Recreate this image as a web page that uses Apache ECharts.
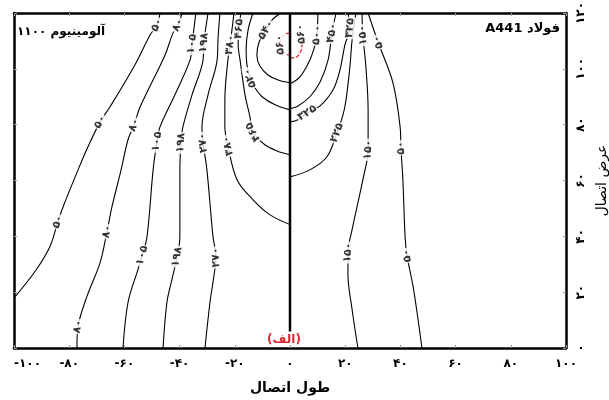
<!DOCTYPE html>
<html><head><meta charset="utf-8">
<script src="https://cdn.jsdelivr.net/npm/echarts@6/dist/echarts.min.js"></script>
<style>html,body{margin:0;padding:0;background:#fff}#c{width:609px;height:400px}</style>
</head><body><div id="c"></div>
<script>
// ---- tick labels ----
const xTickValues = [-100,-80,-60,-40,-20,0,20,40,60,80,100];
const xTickLabels = ['-۱۰۰','-۸۰','-۶۰','-۴۰','-۲۰','۰','۲۰','۴۰','۶۰','۸۰','۱۰۰'];
const yTickValues = [0,20,40,60,80,100,120];
const yTickLabels = ['۰','۲۰','۴۰','۶۰','۸۰','۱۰۰','۱۲۰'];

// ---- aluminium side contours [x, y] ----
const al50 = [[-47.1,120],[-48.2,115.7],[-50.7,112.1],[-56.2,101.4],[-65.2,86.4],[-68.8,81.0],[-73.2,72.1],[-76.8,63.8],[-82.2,50.6],[-84.1,45.2],[-87.0,36.3],[-92.4,27.4],[-99.6,18.4]];
const al50Lab = [1,5,9];
const al80 = [[-39.1,120],[-40.6,115.7],[-42.4,112.8],[-45.3,104.9],[-54.3,86.4],[-56.5,79.9],[-58.7,74.6],[-61.2,63.8],[-64.5,50.6],[-66.3,41.7],[-68.8,30.6],[-73.6,18.4],[-76.8,7.7],[-77.2,0]];
const al80Lab = [1,5,9,12];
const al105 = [[-34.1,120],[-35.5,108.9],[-36.2,103.2],[-41.7,90.7],[-47.1,79.2],[-48.2,73.9],[-49.6,63.8],[-51.8,39.9],[-53.6,33.1],[-55.1,28.1],[-58.7,16.3],[-60.5,0]];
const al105Lab = [1,5,8];
const al198 = [[-29.7,120],[-31.2,109.3],[-31.5,103.2],[-35.5,90.7],[-38.8,79.2],[-39.5,73.5],[-39.9,63.8],[-39.9,39.9],[-40.9,32.7],[-42.8,24.5],[-44.6,16.3],[-46.0,0]];
const al198Lab = [1,5,8];
const al270 = [[-25.4,120],[-26.1,110.3],[-26.4,103.2],[-29.7,90.7],[-31.9,79.2],[-31.5,73.5],[-30.1,63.8],[-27.9,39.9],[-26.8,32.4],[-27.5,26.3],[-29.0,16.3],[-30.8,0]];
const al270Lab = [5,8];
const al380 = [[-20.3,120],[-21.7,108.6],[-22.5,103.2],[-23.6,88.9],[-23.6,79.2],[-22.5,72.4],[-19.2,60.3],[-13.4,53.1],[-7.2,47.7],[0,44.2]];
const al380Lab = [1,5];
const al465 = [[-17.8,120],[-18.5,114.3],[-18.8,108.6],[-18.1,103.2],[-16.3,90.7],[-14.5,82.8],[-13.4,77.4],[-9.1,72.8],[-4.7,70.6],[0,69.2]];
const al465Lab = [1,6];
const al520 = [[-13.4,120],[-15.2,113.9],[-15.9,106.8],[-15.6,101.4],[-14.5,96.7],[-12.7,93.2],[-10.1,90.0],[-5.4,87.1],[0,85.3]];
const al520Lab = [4];
const al540 = [[-3.3,120],[-6.5,117.5],[-8.7,113.9],[-11.2,109.6],[-12.0,104.9],[-10.9,101.0],[-8.0,97.8],[-4.3,96.0],[0,95.0]];
const al540Lab = [2];
const al560 = [[0,112.8],[-1.8,112.5],[-3.3,110.7],[-3.6,108.6],[-2.9,106.4],[-1.4,105.3],[0,104.9]];
const al560Lab = [3];

// ---- steel side contours [x, y] ----
const st50 = [[28.3,120],[31.9,109.6],[37.3,95.0],[39.9,79.2],[40.2,71.7],[40.9,60.3],[41.7,39.9],[42.4,33.1],[44.6,22.0],[46.4,10.2],[47.8,0]];
const st50Lab = [1,4,7];
const st150 = [[26.1,120],[26.4,112.1],[27.5,100.7],[28.3,85.3],[28.3,71.0],[26.4,60.3],[22.5,42.4],[21.0,34.2],[21.0,26.3],[22.5,13.8],[24.6,0]];
const st150Lab = [1,4,7];
const st225 = [[23.9,120],[22.5,110.3],[21.7,100.7],[20.3,88.9],[19.2,83.5],[17.0,77.1],[13.4,68.5],[7.2,63.8],[0,61.3]];
const st225Lab = [5];
const st325 = [[21.0,120],[21.7,114.6],[19.9,108.6],[18.1,99.6],[15.6,92.5],[10.9,86.7],[6.2,84.2],[2.9,81.8],[0,81.0]];
const st325Lab = [1,6];
const st450 = [[16.7,120],[15.2,112.8],[13.8,103.2],[10.9,95.3],[7.2,90.0],[2.9,86.7],[0,85.7]];
const st450Lab = [1];
const st500 = [[10.1,120],[9.8,112.1],[9.1,108.6],[7.2,103.2],[3.6,97.1],[0,94.6]];
const st500Lab = [1];
const st560 = [[0,103.9],[2.2,104.2],[3.6,105.7],[4.3,107.8],[4.3,109.9],[4.0,112.5]];
const st560Lab = [5];

// centre line (weld line)
const centreLine = [[0,5.9],[0,120]];

const contours = [
  {pts: al50, text: '۵۰', lab: al50Lab},
  {pts: al80, text: '۸۰', lab: al80Lab},
  {pts: al105, text: '۱۰۵', lab: al105Lab},
  {pts: al198, text: '۱۹۸', lab: al198Lab},
  {pts: al270, text: '۲۷۰', lab: al270Lab},
  {pts: al380, text: '۳۸۰', lab: al380Lab},
  {pts: al465, text: '۴۶۵', lab: al465Lab},
  {pts: al520, text: '۵۲۰', lab: al520Lab},
  {pts: al540, text: '۵۴۰', lab: al540Lab},
  {pts: al560, text: '۵۶۰', lab: al560Lab, red: true},
  {pts: st50, text: '۵۰', lab: st50Lab},
  {pts: st150, text: '۱۵۰', lab: st150Lab},
  {pts: st225, text: '۲۲۵', lab: st225Lab},
  {pts: st325, text: '۳۲۵', lab: st325Lab},
  {pts: st450, text: '۴۵۰', lab: st450Lab},
  {pts: st500, text: '۵۰۰', lab: st500Lab},
  {pts: st560, text: '۵۶۰', lab: st560Lab, red: true}
];

const FONT = 'DejaVu Sans';
const chart = echarts.init(document.getElementById('c'));

const lineSeries = contours.map(c => ({
  type: 'line', data: c.pts, smooth: 0.35, symbol: 'none', silent: true, z: 2,
  lineStyle: c.red ? {color: '#e3262d', width: 1.3, type: [4, 2]} : {color: '#000', width: 1.1}
}));
lineSeries.push({type: 'line', data: centreLine, symbol: 'none', silent: true, z: 3,
  lineStyle: {color: '#000', width: 2.5}});

const tickFmt = (vals, labs) => v => { const i = vals.indexOf(Math.round(v)); return i >= 0 ? labs[i] : ''; };

const option = {
  animation: false,
  backgroundColor: '#fff',
  grid: {left: 14, right: 43, top: 13, bottom: 52, show: false, containLabel: false, outerBoundsMode: 'none'},
  xAxis: [
    {type: 'value', min: -100, max: 100, interval: 20, position: 'bottom',
     axisLine: {show: true, onZero: false, lineStyle: {color: '#000', width: 2.5}},
     axisTick: {show: true, inside: true, length: 3, lineStyle: {color: '#999'}},
     axisLabel: {formatter: tickFmt(xTickValues, xTickLabels), fontFamily: FONT, fontSize: 12, fontWeight: 'bold', color: '#000', margin: 10, alignMinLabel: 'left'},
     splitLine: {show: false},
     name: 'طول اتصال', nameLocation: 'middle', nameGap: 33,
     nameTextStyle: {fontFamily: FONT, fontSize: 14, fontWeight: 'bold', color: '#000'}},
    {type: 'value', min: -100, max: 100, interval: 20, position: 'top',
     axisLine: {show: true, onZero: false, lineStyle: {color: '#000', width: 2.5}},
     axisTick: {show: true, inside: true, length: 3, lineStyle: {color: '#999'}},
     axisLabel: {show: false}, splitLine: {show: false}}
  ],
  yAxis: [
    {type: 'value', min: 0, max: 120, interval: 20, position: 'right',
     axisLine: {show: true, onZero: false, lineStyle: {color: '#000', width: 2.5}},
     axisTick: {show: true, inside: true, length: 3, lineStyle: {color: '#999'}},
     axisLabel: {formatter: tickFmt(yTickValues, yTickLabels), rotate: 90, fontFamily: FONT, fontSize: 12, fontWeight: 'bold', color: '#000', margin: 9},
     splitLine: {show: false},
     name: 'عرض اتصال', nameLocation: 'middle', nameGap: 28, nameRotate: 90,
     nameTextStyle: {fontFamily: FONT, fontSize: 14, color: '#000'}},
    {type: 'value', min: 0, max: 120, interval: 20, position: 'left',
     axisLine: {show: true, onZero: false, lineStyle: {color: '#000', width: 2.5}},
     axisTick: {show: true, inside: true, length: 3, lineStyle: {color: '#999'}},
     axisLabel: {show: false}, splitLine: {show: false}}
  ],
  graphic: [
    {type: 'text', left: 17, top: 26, style: {text: '\u202Bآلومینیوم ۱۱۰۰\u202C', font: 'bold 12px "DejaVu Sans"', fill: '#000'}},
    {type: 'text', right: 49, top: 22, style: {text: '\u202Bفولاد A441\u202C', font: 'bold 13px "DejaVu Sans"', fill: '#000'}},
    {type: 'text', left: 267, top: 334, style: {text: '(الف)', font: 'bold 12px "DejaVu Sans"', fill: '#e3262d'}}
  ],
  series: lineSeries
};
chart.setOption(option);

// contour labels placed on the contour vertices, rotated along the line
const labelData = [];
contours.forEach(c => {
  c.lab.forEach(i => {
    const a = c.pts[Math.max(0, i - 1)], b = c.pts[Math.min(c.pts.length - 1, i + 1)];
    const pa = chart.convertToPixel({gridIndex: 0}, a), pb = chart.convertToPixel({gridIndex: 0}, b);
    let dx = pb[0] - pa[0], dy = pb[1] - pa[1];
    if (dy > 0) { dx = -dx; dy = -dy; }
    const ang = Math.atan2(-dy, dx) * 180 / Math.PI;
    labelData.push({value: c.pts[i], label: {rotate: ang, formatter: c.text}});
  });
});
chart.setOption({series: lineSeries.concat([{
  type: 'scatter', data: labelData, symbol: 'circle', symbolSize: 1, silent: true, z: 6,
  itemStyle: {color: 'rgba(0,0,0,0)'},
  label: {show: true, position: 'inside', fontFamily: FONT, fontSize: 11, fontWeight: 'bold',
          color: '#000', backgroundColor: '#fff', padding: [0, 1]}
}])});
</script>
</body></html>
